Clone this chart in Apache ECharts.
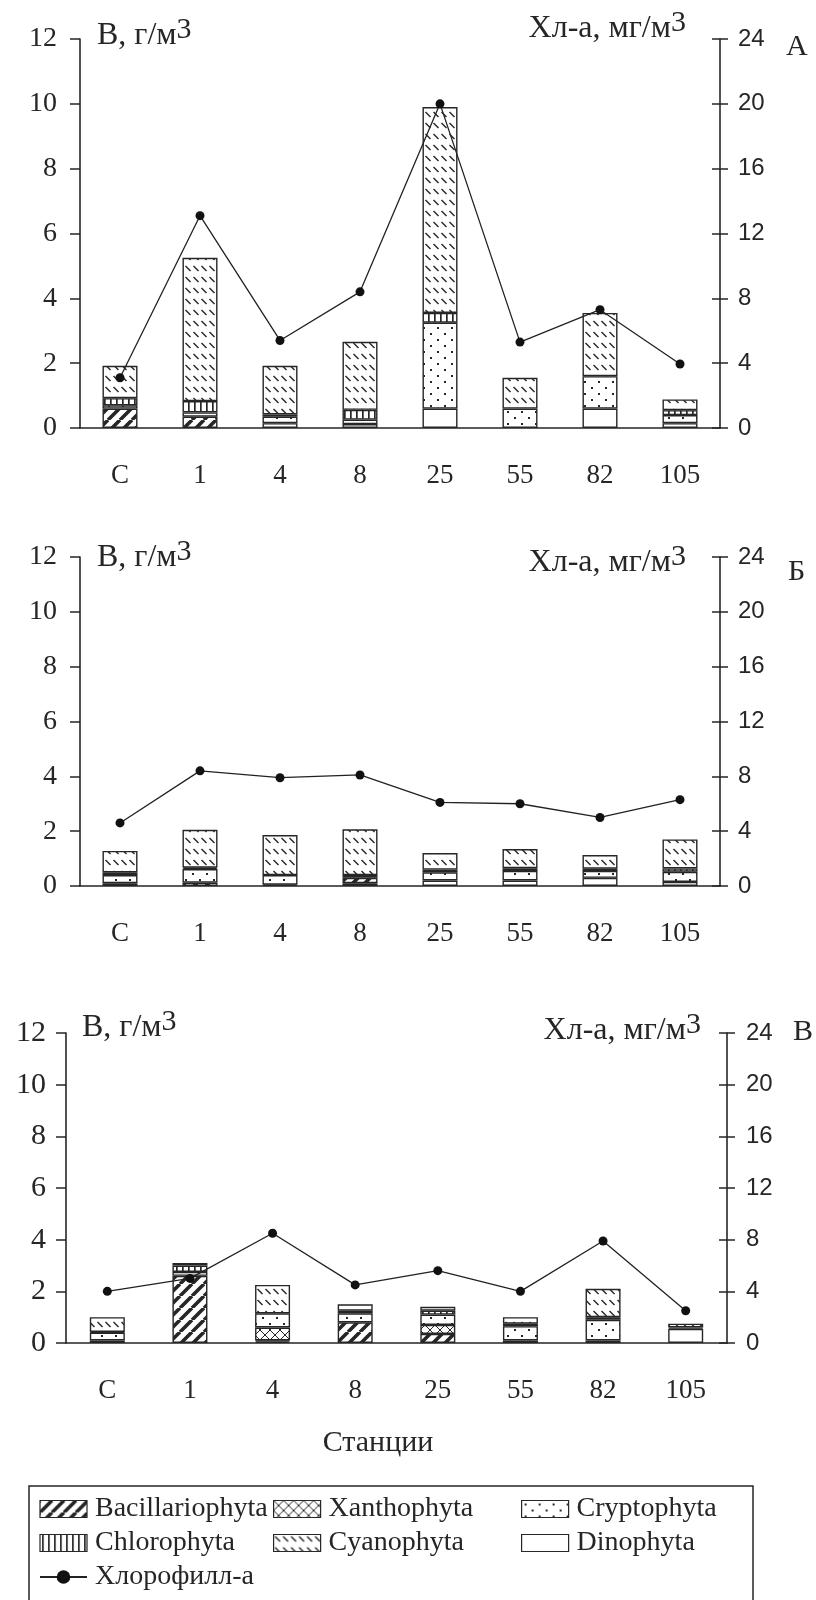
<!DOCTYPE html>
<html><head><meta charset="utf-8">
<script src="https://cdn.jsdelivr.net/npm/echarts@6/dist/echarts.min.js"></script>
<style>html,body{margin:0;padding:0;background:#fff}#c{width:816px;height:1600px}</style>
</head><body><div id="c"></div>
<script>
// ---------- data ----------
const stations = ['С', '1', '4', '8', '25', '55', '82', '105'];
const groups = ['Bacillariophyta', 'Xanthophyta', 'Cryptophyta', 'Chlorophyta', 'Cyanophyta', 'Dinophyta'];
const chlName = 'Хлорофилл-а';

// Panel А
const dinoA = [0, 0, 0.15, 0.12, 0.6, 0, 0.6, 0.15];
const bacA  = [0.6, 0.35, 0, 0, 0, 0, 0, 0];
const xanA  = [0, 0, 0, 0, 0, 0, 0, 0];
const cryA  = [0.1, 0.13, 0.2, 0.14, 2.65, 0.6, 1.0, 0.25];
const chlA  = [0.22, 0.35, 0.07, 0.3, 0.3, 0, 0, 0.15];
const cyaA  = [1.0, 4.42, 1.5, 2.1, 6.35, 0.95, 1.95, 0.33];
const chlaA = [3.1, 13.1, 5.4, 8.4, 20.0, 5.3, 7.3, 3.95];

// Panel Б
const dinoB = [0.1, 0, 0.05, 0.1, 0.2, 0.2, 0.3, 0.15];
const bacB  = [0, 0.12, 0, 0.2, 0, 0, 0, 0];
const xanB  = [0, 0, 0, 0, 0, 0, 0, 0];
const cryB  = [0.3, 0.5, 0.35, 0.1, 0.3, 0.35, 0.25, 0.37];
const chlB  = [0.1, 0.05, 0, 0, 0.1, 0.1, 0.08, 0.12];
const cyaB  = [0.78, 1.38, 1.46, 1.67, 0.6, 0.7, 0.5, 1.06];
const chlaB = [4.6, 8.4, 7.9, 8.1, 6.1, 6.0, 5.0, 6.3];

// Panel В
const dinoV = [0.1, 0, 0.05, 0, 0, 0.1, 0.1, 0.55];
const bacV  = [0, 2.6, 0.05, 0.8, 0.35, 0, 0, 0];
const xanV  = [0, 0, 0.5, 0, 0.35, 0, 0, 0];
const cryV  = [0.3, 0.15, 0.55, 0.35, 0.4, 0.55, 0.8, 0.05];
const chlV  = [0.03, 0.25, 0, 0.1, 0.15, 0.1, 0.1, 0];
const cyaV  = [0.57, 0.1, 1.1, 0.25, 0.15, 0.25, 1.1, 0.15];
const chlaV = [4.0, 5.0, 8.5, 4.5, 5.6, 4.0, 7.9, 2.5];

const panelLetters = ['А', 'Б', 'В'];

// ---------- styles ----------
const SERIF = "'Liberation Serif','Times New Roman',serif";
const SANS = "'Liberation Sans Narrow','Arial Narrow','Liberation Sans',sans-serif";
const INK = '#262626';

function tile(w, h, draw) {
  const c = document.createElement('canvas'); c.width = w; c.height = h;
  const g = c.getContext('2d');
  g.fillStyle = '#fff'; g.fillRect(0, 0, w, h);
  g.strokeStyle = INK; g.fillStyle = INK;
  draw(g, w, h); return c;
}
const pat = {
  Bacillariophyta: tile(12, 12, (g, w, h) => { g.lineWidth = 3.6; g.beginPath();
    for (let k = -1; k <= 1; k++) { g.moveTo(k * w, h); g.lineTo(k * w + w, 0); } g.stroke(); }),
  Xanthophyta: tile(10, 10, (g, w, h) => { g.lineWidth = 1; g.beginPath();
    for (let k = -1; k <= 1; k++) { g.moveTo(k * w, h); g.lineTo(k * w + w, 0); g.moveTo(k * w, 0); g.lineTo(k * w + w, h); } g.stroke(); }),
  Cryptophyta: tile(14, 12, (g) => { g.fillRect(3, 3, 2, 2); g.fillRect(10, 9, 2, 2); }),
  Chlorophyta: tile(6, 6, (g) => { g.fillRect(2, 0, 1.7, 6); }),
  Cyanophyta: tile(8, 11, (g) => { g.lineWidth = 1.4; g.beginPath(); g.moveTo(1.5, 2); g.lineTo(6.5, 7); g.stroke(); }),
  Dinophyta: null
};
function fillOf(name) { return pat[name] ? { image: pat[name], repeat: 'repeat' } : '#ffffff'; }

// ---------- layout ----------
const grids = [
  { left: 80, top: 39, width: 640, height: 389 },
  { left: 80, top: 557, width: 640, height: 329 },
  { left: 66, top: 1033, width: 661, height: 310 }
];
const leftFont = [28, 28, 30];
const leftMargin = [23, 23, 20];
const rightMargin = [18, 18, 19];
const panels = [
  { dino: dinoA, bac: bacA, xan: xanA, cry: cryA, chl: chlA, cya: cyaA, chla: chlaA },
  { dino: dinoB, bac: bacB, xan: xanB, cry: cryB, chl: chlB, cya: cyaB, chla: chlaB },
  { dino: dinoV, bac: bacV, xan: xanV, cry: cryV, chl: chlV, cya: cyaV, chla: chlaV }
];
// stacking order from the bottom
const stackOrder = [['Dinophyta', 'dino'], ['Bacillariophyta', 'bac'], ['Xanthophyta', 'xan'],
  ['Cryptophyta', 'cry'], ['Chlorophyta', 'chl'], ['Cyanophyta', 'cya']];

const xAxis = [], yAxis = [], series = [], graphic = [];
grids.forEach((g, i) => {
  xAxis.push({
    type: 'category', gridIndex: i, data: stations, boundaryGap: true,
    axisLine: { lineStyle: { color: INK, width: 1.6 } },
    axisTick: { length: 10, lineStyle: { color: INK, width: 1.5 } },
    axisLabel: { fontFamily: SERIF, fontSize: 27, color: INK, margin: 34 }
  });
  yAxis.push({
    type: 'value', gridIndex: i, min: 0, max: 12, interval: 2, position: 'left',
    splitLine: { show: false },
    axisLine: { show: true, lineStyle: { color: INK, width: 1.6 } },
    axisTick: { show: true, length: 10, lineStyle: { color: INK, width: 1.5 } },
    axisLabel: { fontFamily: SERIF, fontSize: leftFont[i], color: INK, margin: leftMargin[i] }
  });
  yAxis.push({
    type: 'value', gridIndex: i, min: 0, max: 24, interval: 4, position: 'right',
    splitLine: { show: false },
    axisLine: { show: true, lineStyle: { color: INK, width: 1.6 } },
    axisTick: { show: true, length: 8, lineStyle: { color: INK, width: 1.5 } },
    axisLabel: { fontFamily: SANS, fontSize: 24, color: INK, margin: rightMargin[i] }
  });
  yAxis.push({
    type: 'value', gridIndex: i, min: 0, max: 24, interval: 4, position: 'right',
    splitLine: { show: false }, axisLine: { show: false },
    axisTick: { show: true, inside: true, length: 8, lineStyle: { color: INK, width: 1.5 } },
    axisLabel: { show: false }
  });
  const p = panels[i];
  stackOrder.forEach(([name, key]) => {
    series.push({
      type: 'bar', name, xAxisIndex: i, yAxisIndex: 3 * i, stack: 'p' + i, barWidth: 35,
      data: p[key].map(v => v === 0 ? '-' : v),
      itemStyle: { color: fillOf(name), borderColor: INK, borderWidth: 1.4 },
      emphasis: { disabled: true }, z: 2
    });
  });
  series.push({
    type: 'line', name: chlName, xAxisIndex: i, yAxisIndex: 3 * i + 1, data: p.chla,
    symbol: 'circle', symbolSize: 9, z: 5,
    itemStyle: { color: '#111' }, lineStyle: { color: '#222', width: 1.3 },
    emphasis: { disabled: true }
  });
});

const titlePos = [
  { lx: 97, ly: 36, rx: 686, ry: 29, px: 786, py: 47 },
  { lx: 97, ly: 558, rx: 686, ry: 563, px: 788, py: 572 },
  { lx: 82, ly: 1028, rx: 701, ry: 1031, px: 793, py: 1032 }
];
const rich = {
  b: { fontFamily: SERIF, fontSize: 32, lineHeight: 42, fill: INK, verticalAlign: 'middle' },
  s: { fontFamily: SERIF, fontSize: 30, lineHeight: 28, fill: INK, verticalAlign: 'top' }
};
titlePos.forEach((t, i) => {
  graphic.push({ type: 'text', x: t.lx, y: t.ly,
    style: { text: '{b|В, г/м}{s|3}', rich, textAlign: 'left', textVerticalAlign: 'middle' } });
  graphic.push({ type: 'text', x: t.rx, y: t.ry,
    style: { text: '{b|Хл-а, мг/м}{s|3}', rich, textAlign: 'right', textVerticalAlign: 'middle' } });
  graphic.push({ type: 'text', x: t.px, y: t.py,
    style: { text: panelLetters[i], fontFamily: SERIF, fontSize: 30, fill: INK, textAlign: 'left', textVerticalAlign: 'middle' } });
});
graphic.push({ type: 'text', x: 378, y: 1443,
  style: { text: 'Станции', fontFamily: SERIF, fontSize: 30, fill: INK, textAlign: 'center', textVerticalAlign: 'middle' } });
graphic.push({ type: 'rect', shape: { x: 29, y: 1486, width: 724, height: 130 },
  style: { fill: 'none', stroke: INK, lineWidth: 1.5 }, z: 0 });

const barItem = (name) => ({ name, icon: 'rect', itemStyle: { borderColor: INK, borderWidth: 1.2 } });
const legendBase = {
  orient: 'vertical', top: 1489, itemWidth: 47, itemHeight: 17, itemGap: 4,
  textStyle: { fontFamily: SERIF, fontSize: 28, color: INK, lineHeight: 30, padding: [0, 0, 0, 3] },
  selectedMode: false
};
const legend = [
  Object.assign({}, legendBase, { left: 34, data: [barItem('Bacillariophyta'), barItem('Chlorophyta'), { name: chlName }] }),
  Object.assign({}, legendBase, { left: 268, data: [barItem('Xanthophyta'), barItem('Cyanophyta')] }),
  Object.assign({}, legendBase, { left: 516, data: [barItem('Cryptophyta'), barItem('Dinophyta')] })
];

const chart = echarts.init(document.getElementById('c'), null, { renderer: 'canvas', width: 816, height: 1600 });
chart.setOption({
  backgroundColor: '#fff', animation: false,
  grid: grids, xAxis, yAxis, series, legend, graphic,
  tooltip: { show: false }
});
</script></body></html>
